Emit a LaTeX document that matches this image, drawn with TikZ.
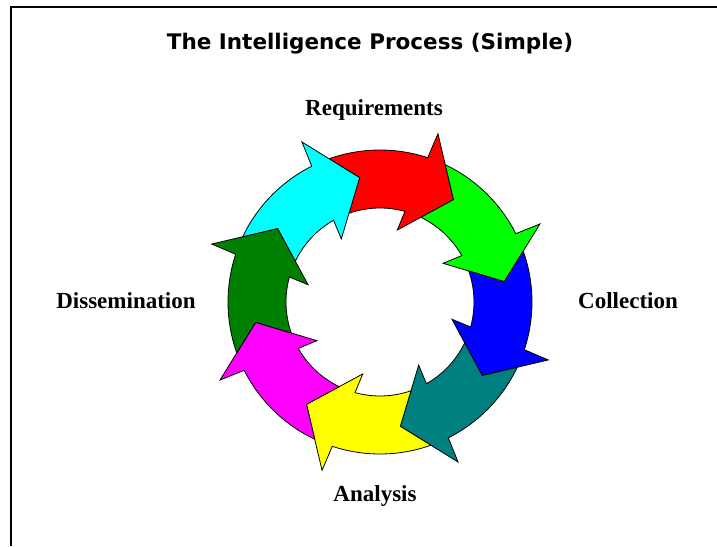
\documentclass[tikz,border=0pt]{standalone}
\usepackage{fontspec}
\setmainfont{Liberation Serif}
\newfontfamily\headfont{DejaVu Sans}
\usepackage{tikz}
\usetikzlibrary{positioning}
\usepackage{xcolor}
\definecolor{reqred}{RGB}{255,0,0}
\definecolor{lime}{RGB}{0,255,0}
\definecolor{pureblue}{RGB}{0,0,255}
\definecolor{darkteal}{RGB}{0,128,128}
\definecolor{pureyellow}{RGB}{255,255,0}
\definecolor{puremagenta}{RGB}{255,0,255}
\definecolor{dkgreen}{RGB}{0,128,0}
\definecolor{purecyan}{RGB}{0,255,255}

\begin{document}
\begin{tikzpicture}[
    x=1pt, y=1pt,
    stage/.style={font=\fontsize{23}{23}\selectfont\bfseries, inner sep=0pt, anchor=base},
    heading/.style={font=\headfont\fontsize{21.5}{21.5}\selectfont\bfseries, inner sep=0pt, anchor=base},
    cycarrow/.style={draw=black, line width=0.8pt, line join=miter}
]
\useasboundingbox (0,0) rectangle (717,546);

% Frame
\draw[line width=2pt] (11,0) -- (11,538.7) -- (717,538.7);

% Nodes
\coordinate (c) at (380,244);
\node[heading] (title) at (370,496) {The Intelligence Process (Simple)};
\node[stage] (req) at (374,430) {Requirements};
\node[stage] (coll) at (628,237.7) {Collection};
\node[stage] (anal) at (375,45) {Analysis};
\node[stage] (diss) at (126,237.7) {Dissemination};

% Arrows (each tail notched by the previous head)
\foreach \rot/\col in {0/reqred, -45/lime, -90/pureblue, -135/darkteal, -180/pureyellow, -225/puremagenta, -270/dkgreen, -315/purecyan} {
  \begin{scope}[shift={(c)}, rotate=\rot]
    \draw[cycarrow, fill=\col] (109.57:152) arc[start angle=109.57, end angle=71.7, radius=152]
      -- (71:178) -- (54.3:126) -- (76.5:74) -- (74.6:94)
      arc[start angle=74.6, end angle=109.25, radius=94] -- (99.3:126) -- cycle;
  \end{scope}
}

\end{tikzpicture}
\end{document}
